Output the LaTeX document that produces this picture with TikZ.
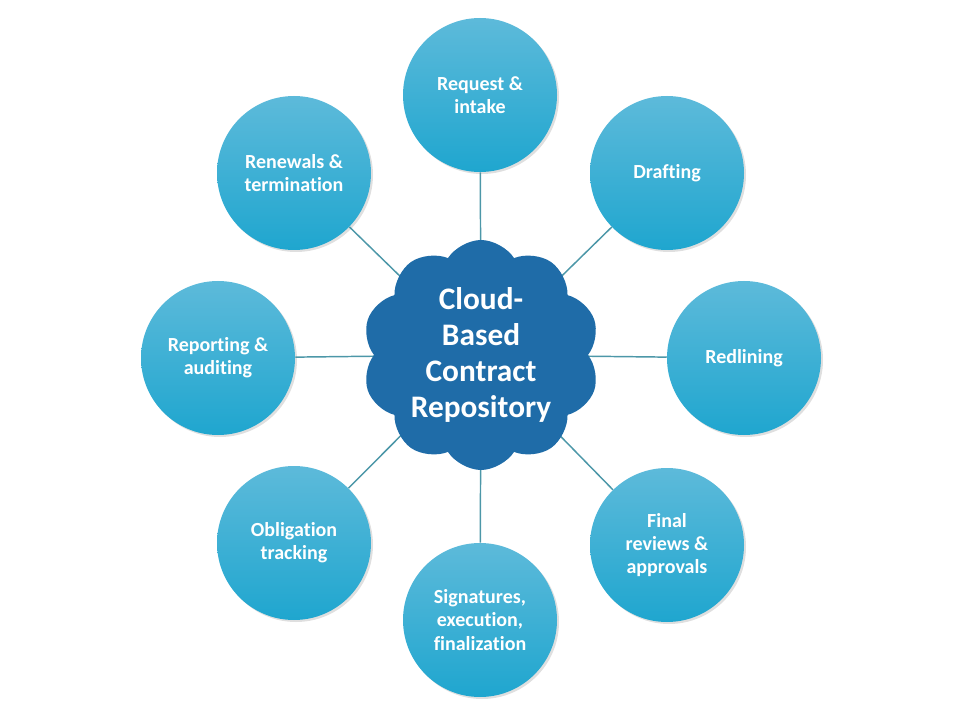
\documentclass[tikz,border=0pt]{standalone}
\usepackage{fontspec}
\setmainfont{Carlito}[Ligatures=CommonOff]
\usepackage{tikz}
\usetikzlibrary{shapes.symbols,shadows}
\definecolor{CTop}{HTML}{5DBADA}
\definecolor{CBottom}{HTML}{1FA6CF}
\definecolor{CCloud}{HTML}{1F6CA8}
\definecolor{CLink}{HTML}{4C97A8}

\begin{document}
\begin{tikzpicture}[
  x=0.75pt,y=-0.75pt,
  every node/.style={font=\bfseries},
  stage/.style={circle,minimum size=154*0.75pt,inner sep=0pt,
    top color=CTop,bottom color=CBottom,draw=none,text=white,
    align=center,font=\fontsize{15}{17.5}\selectfont\bfseries,
    drop shadow={shadow xshift=1.5pt,shadow yshift=-1.5pt,opacity=0.25}},
  repo/.style={cloud,cloud puffs=10,cloud puff arc=115,aspect=1.05,
    minimum width=238*0.75pt,minimum height=230*0.75pt,inner sep=0pt,
    fill=CCloud,draw=none,text=white,align=center,
    font=\fontsize{23.5}{27}\selectfont\bfseries},
  link/.style={draw=CLink,line width=1.1pt}
]
  \useasboundingbox (0,0) rectangle (960,720);
  \coordinate (hub) at (481,355);
  \node[stage] (request) at (480,95) {Request \&\\intake};
  \node[stage] (drafting) at (667,173) {Drafting};
  \node[stage] (redlining) at (744,358) {Redlining};
  \node[stage] (final) at (667,545) {Final\\reviews \&\\approvals};
  \node[stage] (sign) at (480,620) {Signatures,\\execution,\\finalization};
  \node[stage] (oblig) at (294,543) {Obligation\\tracking};
  \node[stage] (report) at (218,358) {Reporting \&\\auditing};
  \node[stage] (renew) at (294,173) {Renewals \&\\termination};

  \foreach \s in {request,drafting,redlining,final,sign,oblig,report,renew}
    {\draw[link] (hub) -- (\s);}
  \node[repo] (repo) at (hub) {Cloud-\\Based\\Contract\\Repository};
\end{tikzpicture}
\end{document}
